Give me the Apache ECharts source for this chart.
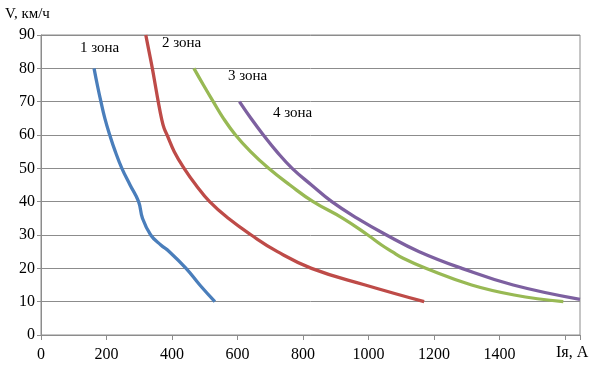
<!DOCTYPE html>
<html>
<head>
<meta charset="utf-8">
<script src="https://cdn.jsdelivr.net/npm/echarts@6/dist/echarts.min.js"></script>
<style>
html,body{margin:0;padding:0;background:#fff;}
#chart{width:592px;height:370px;}
</style>
</head>
<body>
<div id="chart"></div>
<script>
// Zone 1
var zone1V = [80, 75, 70, 65, 60, 55, 50, 45, 40, 35, 30, 27, 25, 20, 15, 10];
var zone1I = [162, 172, 183, 195, 210, 227, 247, 272, 298, 310, 335, 366, 392, 443, 485, 531];
// Zone 2
var zone2V = [90, 85, 80, 75, 70, 65, 62, 60, 55, 50, 45, 40, 35, 30, 25, 20, 15, 10];
var zone2I = [320, 330, 340, 349, 358, 368, 376, 385, 407, 437, 473, 515, 572, 642, 722, 826, 990, 1170];
// Zone 3
var zone3V = [80, 75, 70, 65, 60, 55, 50, 45, 40, 35, 30, 27, 25, 23, 20, 15, 12, 10];
var zone3I = [467, 496, 526, 557, 594, 640, 695, 760, 831, 922, 998, 1040, 1072, 1106, 1175, 1315, 1445, 1595];
// Zone 4
var zone4V = [70, 65, 60, 55, 50, 45, 40, 35, 30, 25, 20, 15, 10.7];
var zone4I = [606, 641, 679, 720, 767, 826, 888, 966, 1055, 1155, 1285, 1442, 1646];

var zoneNames = ['1 зона', '2 зона', '3 зона', '4 зона'];
var xTickLabels = ['0', '200', '400', '600', '800', '1000', '1200', '1400', 'Iя, A'];
var yTickLabels = ['0', '10', '20', '30', '40', '50', '60', '70', '80', '90'];
var yTitle = 'V, км/ч';

var colors = ['#4A7EBB', '#BE4B48', '#98B954', '#7D60A0'];
var serif = "'Liberation Serif', 'Times New Roman', serif";

function pairs(I, V) {
  var out = [];
  for (var i = 0; i < I.length; i++) out.push([I[i], V[i]]);
  return out;
}

var zones = [[zone1I, zone1V], [zone2I, zone2V], [zone3I, zone3V], [zone4I, zone4V]];
var series = zones.map(function (z, k) {
  return {
    type: 'line',
    name: zoneNames[k],
    data: pairs(z[0], z[1]),
    smooth: 0.45,
    showSymbol: false,
    symbol: 'none',
    lineStyle: { color: colors[k], width: 3.3, cap: 'butt' },
    itemStyle: { color: colors[k] },
    z: 3 + k
  };
});

var chart = echarts.init(document.getElementById('chart'), null, { renderer: 'canvas' });
chart.setOption({
  backgroundColor: '#ffffff',
  animation: false,
  grid: {
    left: 41, right: 12, top: 35, bottom: 35,
    show: true, borderColor: '#8c8c8c', borderWidth: 1, backgroundColor: 'transparent'
  },
  xAxis: {
    type: 'value',
    min: 0, max: 1646, interval: 200,
    axisLine: { show: true, lineStyle: { color: '#8c8c8c', width: 1 } },
    axisTick: { show: true, length: 5, lineStyle: { color: '#8c8c8c' } },
    splitLine: { show: false },
    axisLabel: {
      margin: 12,
      fontFamily: serif, fontSize: 16, color: '#000',
      formatter: function (v) {
        var idx = Math.round(v / 200);
        if (Math.abs(v - idx * 200) > 0.01 || idx >= xTickLabels.length - 1) return '';
        return xTickLabels[idx];
      }
    }
  },
  yAxis: {
    type: 'value',
    min: 0, max: 90, interval: 10,
    axisLine: { show: true, lineStyle: { color: '#8c8c8c', width: 1 } },
    axisTick: { show: true, length: 4, lineStyle: { color: '#8c8c8c' } },
    splitLine: { show: true, lineStyle: { color: '#8c8c8c', width: 1 } },
    axisLabel: {
      margin: 6,
      fontFamily: serif, fontSize: 16, color: '#000',
      formatter: function (v) { return yTickLabels[Math.round(v / 10)]; }
    }
  },
  series: series,
  graphic: [
    { type: 'text', left: 5, top: 7, style: { text: yTitle, font: '15px ' + serif, fill: '#000' } },
    { type: 'text', left: 556, top: 345, style: { text: xTickLabels[xTickLabels.length - 1], font: '16px ' + serif, fill: '#000' } },
    { type: 'text', left: 80, top: 41, style: { text: zoneNames[0], font: '15px ' + serif, fill: '#000' } },
    { type: 'text', left: 162, top: 36, style: { text: zoneNames[1], font: '15px ' + serif, fill: '#000' } },
    { type: 'text', left: 228, top: 69, style: { text: zoneNames[2], font: '15px ' + serif, fill: '#000' } },
    { type: 'text', left: 273, top: 106, style: { text: zoneNames[3], font: '15px ' + serif, fill: '#000' } }
  ]
});
</script>
</body>
</html>
